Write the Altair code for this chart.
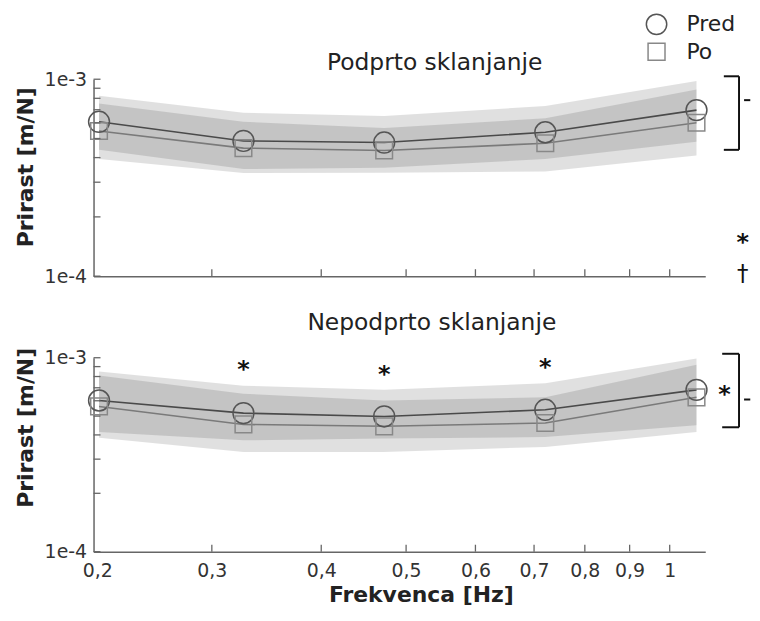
import altair as alt
import pandas as pd

# ---------------- data ----------------
FREQ = [0.223, 0.326, 0.472, 0.721, 1.073]

# Panel A: Podprto sklanjanje
PRED_MEAN_A = [6.08e-4, 4.86e-4, 4.77e-4, 5.38e-4, 6.97e-4]
PO_MEAN_A = [5.46e-4, 4.47e-4, 4.35e-4, 4.73e-4, 6.01e-4]
PRED_HI_A = [8.24e-4, 6.76e-4, 6.50e-4, 7.31e-4, 9.80e-4]
PRED_LO_A = [4.38e-4, 3.50e-4, 3.55e-4, 3.93e-4, 4.82e-4]
PO_HI_A = [7.54e-4, 6.08e-4, 5.66e-4, 6.33e-4, 8.87e-4]
PO_LO_A = [3.94e-4, 3.34e-4, 3.35e-4, 3.40e-4, 4.10e-4]

# Panel B: Nepodprto sklanjanje
PRED_MEAN_B = [6.02e-4, 5.18e-4, 4.98e-4, 5.39e-4, 6.83e-4]
PO_MEAN_B = [5.61e-4, 4.53e-4, 4.43e-4, 4.61e-4, 6.25e-4]
PRED_HI_B = [8.48e-4, 7.18e-4, 6.83e-4, 7.38e-4, 9.90e-4]
PRED_LO_B = [4.14e-4, 3.75e-4, 3.83e-4, 3.90e-4, 4.48e-4]
PO_HI_B = [8.09e-4, 6.52e-4, 6.02e-4, 6.26e-4, 9.21e-4]
PO_LO_B = [3.87e-4, 3.27e-4, 3.27e-4, 3.47e-4, 4.14e-4]

TITLE_A = "Podprto sklanjanje"
TITLE_B = "Nepodprto sklanjanje"
SERIES = ["Pred", "Po"]

X_DOMAIN = [0.2198, 1.098]
Y_DOMAIN = [1e-4, 1e-3]
X_TICKS = [0.3, 0.4, 0.5, 0.6, 0.7, 0.8, 0.9, 1.0]
X_LABEL_VALUES = [0.222, 0.3, 0.4, 0.5, 0.6, 0.7, 0.8, 0.9, 1.0]
X_LABELS = ["0,2", "0,3", "0,4", "0,5", "0,6", "0,7", "0,8", "0,9", "1"]
Y_TICKS = [1e-4, 2e-4, 3e-4, 4e-4, 5e-4, 6e-4, 7e-4, 8e-4, 9e-4, 1e-3]

# significance markers above points (panel B)
STAR_FREQ_B = [0.326, 0.472, 0.721]
STAR_Y_B = [8.65e-4, 8.12e-4, 8.85e-4]

FONT = "DejaVu Sans"
W = 615

xs = alt.Scale(type="log", domain=X_DOMAIN, nice=False)
ys = alt.Scale(type="log", domain=Y_DOMAIN, nice=False)

label_expr = "".join(
    f"abs(datum.value - {v}) < 0.005 ? '{l}' : " for v, l in zip(X_LABEL_VALUES, X_LABELS)
) + "''"


def make_axes(show_x, title_y):
    xaxis = alt.Axis(
        values=X_LABEL_VALUES, labels=show_x, labelExpr=label_expr,
        title="Frekvenca [Hz]" if show_x else None, titleX=329, titleY=33,
        ticks=False, tickSize=0, grid=False, labelFlush=False, labelOverlap=False,
        labelFont=FONT, labelFontSize=19, labelColor="#333", labelPadding=10,
        titleFont=FONT, titleFontSize=22, titleFontWeight="bold", titleColor="#222",
        titleBaseline="top", domainColor="#666", domainWidth=1.5,
    )
    yaxis = alt.Axis(
        values=[1e-4, 1e-3], format=".0e", title="Prirast [m/N]", titleY=title_y,
        ticks=False, tickSize=0, grid=False, labelOverlap=False,
        labelFont=FONT, labelFontSize=19, labelColor="#333", labelPadding=7,
        titleFont=FONT, titleFontSize=22, titleFontWeight="bold", titleColor="#222",
        titlePadding=7, domainColor="#666", domainWidth=1.5,
    )
    return xaxis, yaxis


def panel(pm, pom, phi, plo, pohi, polo, title, title_pos, show_x, height, title_y, extra):
    xaxis, yaxis = make_axes(show_x, title_y)

    def X(f):
        return alt.X(f"{f}:Q", scale=xs, axis=xaxis)

    def Y(f):
        return alt.Y(f"{f}:Q", scale=ys, axis=yaxis)

    df = pd.DataFrame({"freq": FREQ, "pm": pm, "pom": pom, "phi": phi, "plo": plo,
                       "pohi": pohi, "polo": polo})
    band_pred = alt.Chart(df).mark_area(color="#000", opacity=0.12).encode(
        x=X("freq"), y=Y("phi"), y2="plo")
    band_po = alt.Chart(df).mark_area(color="#000", opacity=0.12).encode(
        x=X("freq"), y=Y("pohi"), y2="polo")
    line_pred = alt.Chart(df).mark_line(color="#4a4a4a", strokeWidth=1.6).encode(
        x=X("freq"), y=Y("pm"))
    line_po = alt.Chart(df).mark_line(color="#7a7a7a", strokeWidth=1.6).encode(
        x=X("freq"), y=Y("pom"))
    pts_pred = alt.Chart(df).mark_point(shape="circle", size=440, filled=False,
                                        color="#555", strokeWidth=1.5, opacity=1).encode(
        x=X("freq"), y=Y("pm"))
    pts_po = alt.Chart(df).mark_point(shape="square", size=280, filled=False,
                                      color="#888", strokeWidth=1.5, opacity=1).encode(
        x=X("freq"), y=Y("pom"))

    ytk = alt.Chart(pd.DataFrame({"v": Y_TICKS})).mark_rule(color="#666", strokeWidth=1.3).encode(
        y=Y("v"), x=alt.value(0), x2=alt.value(7))
    xtk = alt.Chart(pd.DataFrame({"v": X_TICKS})).mark_rule(color="#666", strokeWidth=1.3).encode(
        x=X("v"), y=alt.value(height), y2=alt.value(height - 7))

    tdf = pd.DataFrame({"x": [title_pos[0]], "y": [title_pos[1]], "t": [title]})
    ttl = alt.Chart(tdf).mark_text(font=FONT, fontSize=23.5, color="#222",
                                   baseline="middle").encode(x=X("x"), y=Y("y"), text="t:N")

    layers = [band_pred, band_po, line_pred, line_po, pts_pred, pts_po, ytk, xtk, ttl]
    for e in extra:
        layers.append(e(X, Y))

    return alt.layer(*layers).properties(width=W, height=height)


def bracket(xv, xa, ytop, ybot, ytick, xt1, xt2):
    return pd.DataFrame({
        "x": [xv, xa, xa, xt1], "x2": [xv, xv, xv, xt2],
        "y": [ytop, ytop, ybot, ytick], "y2": [ybot, ytop, ybot, ytick]})


def legend_layer(X, Y):
    leg = pd.DataFrame({"lx": [0.966, 0.966], "ly": [1.90e-3, 1.38e-3],
                        "tx": [1.045, 1.045], "s": SERIES})
    c = alt.Chart(leg.iloc[[0]]).mark_point(shape="circle", size=420, filled=False,
                                            color="#555", strokeWidth=1.5, opacity=1).encode(
        x=X("lx"), y=Y("ly"))
    s = alt.Chart(leg.iloc[[1]]).mark_point(shape="square", size=290, filled=False,
                                            color="#888", strokeWidth=1.5, opacity=1).encode(
        x=X("lx"), y=Y("ly"))
    t = alt.Chart(leg).mark_text(align="left", baseline="middle", font=FONT, fontSize=22,
                                 color="#222").encode(x=X("tx"), y=Y("ly"), text="s:N")
    return alt.layer(c, s, t)


def bracket_a(X, Y):
    b = bracket(1.200, 1.153, 1.035e-3, 4.38e-4, 7.83e-4, 1.216, 1.236)
    r = alt.Chart(b).mark_rule(color="#111", strokeWidth=2).encode(
        x=X("x"), x2="x2", y=Y("y"), y2="y2")
    star = pd.DataFrame({"x": [1.212], "y": [1.48e-4]})
    dag = pd.DataFrame({"x": [1.212], "y": [1.03e-4]})
    t1 = alt.Chart(star).mark_text(text="*", font=FONT, fontSize=24, fontWeight="bold",
                                   color="#111", baseline="middle").encode(x=X("x"), y=Y("y"))
    t2 = alt.Chart(dag).mark_text(text="†", font=FONT, fontSize=23, fontWeight="normal",
                                  color="#111", baseline="middle").encode(x=X("x"), y=Y("y"))
    return alt.layer(r, t1, t2)


def bracket_b(X, Y):
    b = bracket(1.200, 1.148, 1.048e-3, 4.38e-4, 6.09e-4, 1.216, 1.236)
    r = alt.Chart(b).mark_rule(color="#111", strokeWidth=2).encode(
        x=X("x"), x2="x2", y=Y("y"), y2="y2")
    marks = pd.DataFrame({"x": [1.155] + STAR_FREQ_B, "y": [6.45e-4] + STAR_Y_B})
    t = alt.Chart(marks).mark_text(text="*", font=FONT, fontSize=24, fontWeight="bold",
                                   color="#111", baseline="middle").encode(x=X("x"), y=Y("y"))
    return alt.layer(r, t)


top = panel(PRED_MEAN_A, PO_MEAN_A, PRED_HI_A, PRED_LO_A, PO_HI_A, PO_LO_A,
            TITLE_A, (0.539, 1.215e-3), False, 198, 88, [legend_layer, bracket_a])
bottom = panel(PRED_MEAN_B, PO_MEAN_B, PRED_HI_B, PRED_LO_B, PO_HI_B, PO_LO_B,
               TITLE_B, (0.535, 1.512e-3), True, 195, 70, [bracket_b])

chart = alt.vconcat(top, bottom, spacing=24).properties(
    padding={"left": 6, "top": 1, "right": 0, "bottom": 0}
).configure(font=FONT, background="white", view=alt.ViewConfig(stroke=None))

chart.save("out.html", embed_options={"renderer": "svg", "actions": False})
